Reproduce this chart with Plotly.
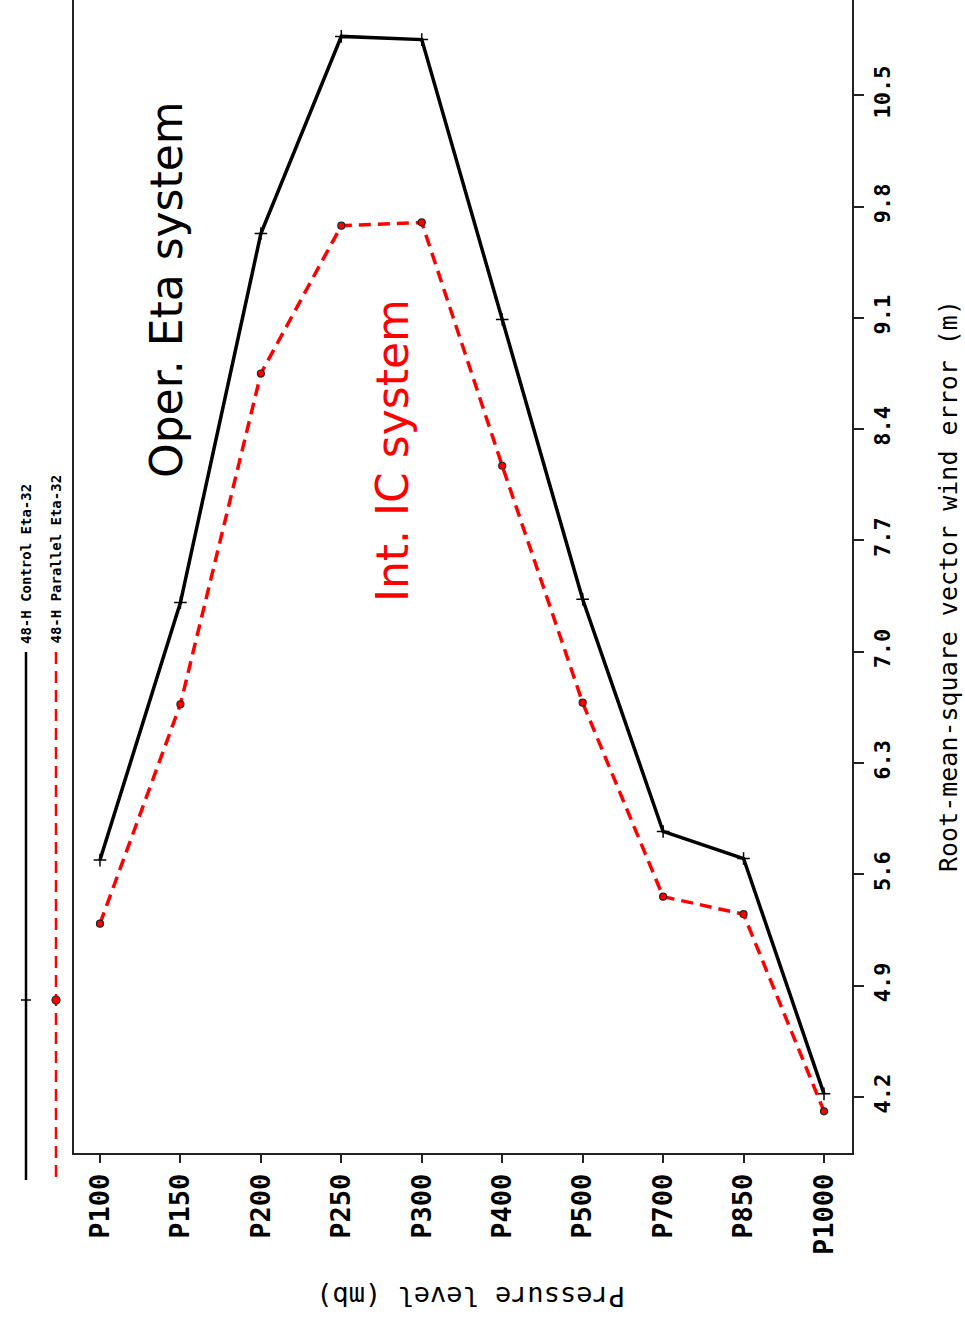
import plotly.graph_objects as go

# Pressure levels and 48-h RMS vector wind error (m) for the two Eta-32 runs
levels = ["P100", "P150", "P200", "P250", "P300", "P400", "P500", "P700", "P850", "P1000"]
control_eta32 = [5.69, 7.31, 9.63, 10.87, 10.85, 9.09, 7.33, 5.87, 5.70, 4.22]
parallel_eta32 = [5.29, 6.67, 8.75, 9.68, 9.70, 8.17, 6.68, 5.46, 5.35, 4.11]
y_ticks = [4.2, 4.9, 5.6, 6.3, 7.0, 7.7, 8.4, 9.1, 9.8, 10.5]
y_tick_text = ["4.2", "4.9", "5.6", "6.3", "7.0", "7.7", "8.4", "9.1", "9.8", "10.5"]
legend_names = ["48-H Control Eta-32", "48-H Parallel Eta-32"]

W, H = 965, 1324
L, R, T, B = 74, 852, 0, 1153  # plot-area box in pixels

def px(x):
    return (x - L) / (R - L)

def py(y):
    return (B - y) / (B - T)

MONO = "DejaVu Sans Mono"
RED = "#ff0000"

fig = go.Figure()
fig.add_trace(go.Scatter(
    x=levels, y=control_eta32, mode="lines+markers", name=legend_names[0],
    line=dict(color="black", width=3.5),
    marker=dict(symbol="cross-thin", size=9, line=dict(color="black", width=1.5)),
    showlegend=False,
))
fig.add_trace(go.Scatter(
    x=levels, y=parallel_eta32, mode="lines+markers", name=legend_names[1],
    line=dict(color=RED, width=3.5, dash="12px,7px"),
    marker=dict(symbol="circle", size=7, color=RED, line=dict(color="#222", width=1.2)),
    showlegend=False,
))

fig.update_layout(
    width=W, height=H,
    margin=dict(l=L, r=W - R, t=T, b=H - B, pad=0),
    paper_bgcolor="white", plot_bgcolor="white",
    xaxis=dict(
        type="category", range=[-0.323, 9.348],
        showline=True, linecolor="#222", linewidth=2,
        ticks="outside", ticklen=8, tickwidth=2, tickcolor="#222",
        tickangle=-90, tickfont=dict(family=MONO, size=27, color="black", weight="bold"),
        showgrid=False, zeroline=False,
    ),
    yaxis=dict(
        side="right", range=[3.848, 11.099],
        tickvals=y_ticks, ticktext=y_tick_text,
        showline=True, mirror=True, linecolor="#222", linewidth=2,
        ticks="outside", ticklen=10, tickwidth=1.5, tickcolor="#222",
        tickangle=-90, tickfont=dict(family=MONO, size=22, color="black", weight="bold"),
        showgrid=False, zeroline=False,
    ),
)

# Legend drawn down the left margin
shapes = [
    dict(type="line", xref="paper", yref="paper", x0=px(26), x1=px(26), y0=py(652), y1=py(1180),
         line=dict(color="black", width=2.5)),
    dict(type="line", xref="paper", yref="paper", x0=px(56), x1=px(56), y0=py(652), y1=py(1180),
         line=dict(color=RED, width=2.5, dash="12px,7px")),
    dict(type="line", xref="paper", yref="paper", x0=px(21), x1=px(31), y0=py(1000), y1=py(1000),
         line=dict(color="black", width=1.5)),
    dict(type="circle", xref="paper", yref="paper", x0=px(52), x1=px(60), y0=py(996), y1=py(1004),
         fillcolor=RED, line=dict(color="#222", width=1.2)),
]
fig.update_layout(shapes=shapes)

annotations = [
    dict(text=legend_names[0], x=px(26), y=py(646), xanchor="center", yanchor="bottom",
         textangle=-90, font=dict(family=MONO, size=14, color="black", weight="bold")),
    dict(text=legend_names[1], x=px(55), y=py(646), xanchor="center", yanchor="bottom",
         textangle=-90, font=dict(family=MONO, size=14, color="black", weight="bold")),
    dict(text="Oper. Eta system", x=px(166), y=py(290), xanchor="center", yanchor="middle",
         textangle=-90, font=dict(family="DejaVu Sans", size=44, color="black")),
    dict(text="Int. IC system", x=px(392), y=py(451), xanchor="center", yanchor="middle",
         textangle=-90, font=dict(family="DejaVu Sans", size=44, color=RED)),
    dict(text="Root-mean-square vector wind error (m)", x=px(948), y=py(586),
         xanchor="center", yanchor="middle", textangle=-90,
         font=dict(family=MONO, size=25, color="black")),
    dict(text="Pressure level (mb)", x=px(471), y=py(1297),
         xanchor="center", yanchor="middle", textangle=180,
         font=dict(family=MONO, size=27, color="black")),
]
for a in annotations:
    a.update(xref="paper", yref="paper", showarrow=False)
fig.update_layout(annotations=annotations)

fig.write_html("out.html")
